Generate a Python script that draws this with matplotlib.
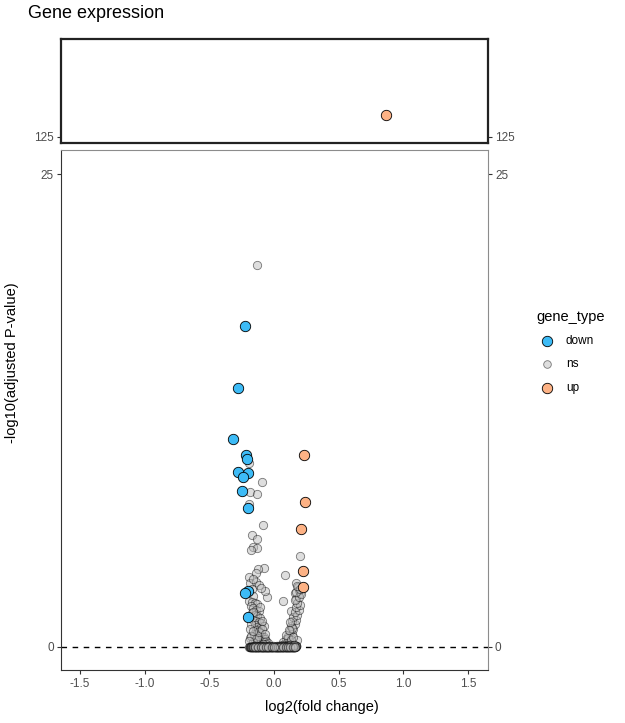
import matplotlib
matplotlib.use("Agg")
import matplotlib.pyplot as plt
from matplotlib.lines import Line2D

plt.rcParams['font.family'] = ['Liberation Sans', 'DejaVu Sans']

# significant genes
down_x = [-0.224, -0.278, -0.315, -0.219, -0.211, -0.281, -0.203, -0.237, -0.250,
          -0.203, -0.199, -0.224, -0.203]
down_y = [16.97, 13.69, 10.98, 10.15, 9.95, 9.27, 9.18, 9.00, 8.26,
          7.36, 2.96, 2.84, 1.60]
up_x = [0.866, 0.232, 0.237, 0.209, 0.227, 0.227]
up_y = [126.16, 10.16, 7.68, 6.24, 4.02, 3.19]

# non significant genes, scattered part
ns_x = [-0.131, -0.191, -0.090, -0.186, -0.129, -0.191, -0.083, -0.172, -0.129,
        -0.165, -0.129, -0.180, 0.201, -0.077, -0.121, -0.139, -0.191, 0.085,
        -0.186, -0.139, -0.114, 0.168, 0.183, -0.056, 0.162, 0.201, 0.067,
        -0.17, -0.07, -0.165, -0.16, -0.10, 0.17, 0.13, 0.19,
        -0.19, -0.17, -0.15, -0.13, -0.18, -0.16, -0.14, -0.12, -0.17, -0.15,
        -0.13, -0.11, -0.16, -0.14, -0.12, -0.10, -0.15, -0.13, -0.11, -0.14,
        -0.12, -0.10, -0.13, -0.11, -0.09, -0.12, -0.10, -0.08, -0.11, -0.09,
        -0.186, -0.175, -0.155, -0.105, -0.165,
        -0.195, -0.185, -0.08, -0.07, -0.06, -0.075, -0.095, -0.145, -0.125, -0.165,
        -0.135, -0.115, -0.09, -0.07, -0.05, -0.06, -0.085, -0.175, -0.195, -0.16,
        0.10, 0.12, 0.09, 0.13, 0.11, 0.14, 0.12, 0.15, 0.13, 0.16,
        0.14, 0.17, 0.15, 0.18, 0.16, 0.19, 0.17, 0.20, 0.18, 0.16,
        0.19, 0.21, 0.17, 0.20, 0.18, 0.155, 0.14, 0.175,
        0.08, 0.07, 0.11, 0.09, 0.135, 0.115, 0.145, 0.125, 0.1, 0.06]
ns_y = [20.19, 9.74, 8.70, 8.21, 8.09, 7.56, 6.43, 5.92, 5.71,
        5.30, 5.25, 5.13, 4.81, 4.16, 4.12, 3.93, 3.72, 3.81,
        3.37, 3.45, 3.28, 3.37, 3.19, 2.66, 2.84, 2.84, 2.43,
        3.05, 2.95, 2.70, 3.60, 3.10, 2.55, 1.90, 3.00,
        2.45, 2.40, 2.30, 2.25, 2.15, 2.05, 1.95, 1.90, 1.80, 1.70,
        1.62, 1.55, 1.45, 1.38, 1.30, 1.25, 1.15, 1.05, 1.00, 0.90,
        0.82, 0.75, 0.65, 0.58, 0.52, 0.45, 0.38, 0.32, 0.25, 0.20,
        0.48, 1.20, 0.70, 2.10, 1.85,
        1.60, 0.95, 0.55, 0.40, 0.30, 1.10, 1.40, 0.35, 0.60, 0.25,
        0.50, 0.80, 0.95, 0.70, 0.20, 0.15, 0.15, 0.60, 0.30, 0.85,
        0.20, 0.30, 0.40, 0.50, 0.60, 0.70, 0.85, 0.95, 1.10, 1.20,
        1.35, 1.45, 1.60, 1.70, 1.85, 1.95, 2.10, 2.20, 2.35, 2.50,
        2.65, 2.80, 2.90, 3.05, 3.20, 0.10, 1.00, 0.35,
        0.15, 0.25, 0.45, 0.65, 0.35, 0.90, 0.55, 1.30, 0.12, 0.10]

# non significant genes, band near zero (padj close to 1)
band_x = [-0.190, -0.184, -0.178, -0.172, -0.166, -0.160, -0.154, -0.148, -0.142,
          -0.136, -0.130, -0.124, -0.118, -0.112, -0.106, -0.100, -0.094, -0.088,
          -0.082, -0.076, -0.070, -0.064, -0.058, -0.052, -0.046, -0.040, -0.034,
          -0.028, -0.022, -0.016, -0.010, -0.004, 0.004, 0.010, 0.016, 0.022,
          0.028, 0.034, 0.040, 0.046, 0.052, 0.058, 0.064, 0.070, 0.076, 0.082,
          0.088, 0.094, 0.100, 0.106, 0.112, 0.118, 0.124, 0.130, 0.136, 0.142,
          0.148, 0.154, 0.160, 0.166, 0.170,
          -0.187, -0.181, -0.175, -0.169, -0.163, -0.157, -0.151, -0.145, -0.139,
          -0.133, -0.127, -0.121, -0.115, -0.109, -0.103, -0.097, -0.091, -0.085,
          -0.079, -0.073, -0.067, -0.061, -0.055, -0.049, -0.043, -0.037, -0.031,
          -0.025, -0.019, -0.013, -0.007, 0.007, 0.013, 0.019, 0.025,
          0.031, 0.037, 0.043, 0.049, 0.055, 0.061, 0.067, 0.073, 0.079, 0.085,
          0.091, 0.097, 0.103, 0.109, 0.115, 0.121, 0.127, 0.133, 0.139, 0.145,
          0.151, 0.157, 0.163, 0.168,
          -0.150, -0.130, -0.110, -0.090, -0.070, -0.050, -0.030, -0.010, 0.020,
          0.040, 0.060, 0.080, 0.100, 0.120, 0.140, 0.155,
          -0.165, -0.145, -0.127, -0.103, -0.085, -0.061, -0.043, -0.019, 0.013,
          0.031, 0.049, 0.067, 0.091, 0.109, 0.127, 0.145, 0.163,
          0.000]
band_y = [0.00, 0.00, 0.02, 0.00, 0.01, 0.00, 0.03, 0.00, 0.01,
          0.00, 0.02, 0.00, 0.01, 0.00, 0.03, 0.00, 0.01, 0.00,
          0.02, 0.00, 0.01, 0.00, 0.00, 0.02, 0.00, 0.01, 0.00,
          0.00, 0.01, 0.00, 0.02, 0.00, 0.00, 0.01, 0.00, 0.02,
          0.00, 0.01, 0.00, 0.00, 0.02, 0.00, 0.01, 0.00, 0.03, 0.00,
          0.01, 0.00, 0.02, 0.00, 0.01, 0.00, 0.03, 0.00, 0.01, 0.00,
          0.02, 0.00, 0.01, 0.03, 0.05,
          0.01, 0.00, 0.01, 0.00, 0.02, 0.00, 0.01, 0.00, 0.02,
          0.00, 0.01, 0.00, 0.02, 0.00, 0.01, 0.00, 0.02, 0.00,
          0.01, 0.00, 0.02, 0.00, 0.01, 0.00, 0.02, 0.00, 0.01,
          0.00, 0.02, 0.00, 0.01, 0.00, 0.02, 0.00, 0.01,
          0.00, 0.02, 0.00, 0.01, 0.00, 0.02, 0.00, 0.01, 0.00, 0.02,
          0.00, 0.01, 0.00, 0.02, 0.00, 0.01, 0.00, 0.02, 0.00, 0.01,
          0.00, 0.02, 0.00, 0.04,
          0.06, 0.05, 0.07, 0.04, 0.06, 0.05, 0.04, 0.06, 0.05,
          0.07, 0.04, 0.06, 0.05, 0.08, 0.06, 0.09,
          0.00, 0.01, 0.00, 0.02, 0.00, 0.01, 0.00, 0.00, 0.01,
          0.00, 0.02, 0.00, 0.01, 0.00, 0.02, 0.00, 0.01,
          0.00]

col_down = "#3dbbf6"
col_up = "#fdb285"
col_ns = "#bebebe"
tick_col = "#4d4d4d"

fig = plt.figure(figsize=(6.25, 7.23), dpi=100)
L, W = 61 / 625, 427 / 625
ax_top = fig.add_axes([L, 1 - 143 / 723, W, 104 / 723])
ax_bot = fig.add_axes([L, 1 - 670 / 723, W, 520 / 723])

xlim = (-1.648, 1.655)

for ax in (ax_top, ax_bot):
    ax.scatter(ns_x, ns_y, s=36, facecolor=col_ns, edgecolor="black",
               linewidth=0.6, alpha=0.5, zorder=3)
    ax.scatter(band_x, band_y, s=36, facecolor=col_ns, edgecolor="black",
               linewidth=0.8, alpha=0.5, zorder=3)
    ax.scatter(down_x, down_y, s=56, facecolor=col_down, edgecolor="black",
               linewidth=0.6, zorder=4)
    ax.scatter(up_x, up_y, s=56, facecolor=col_up, edgecolor="black",
               linewidth=0.6, zorder=4)
    ax.set_xlim(*xlim)
    ax.tick_params(axis="y", left=True, right=True, labelleft=True, labelright=True,
                   labelsize=8.5, labelcolor=tick_col, color="#333333", length=3, width=0.8,
                   pad=2)

ax_bot.axhline(0, color="black", lw=1.0, linestyle=(0, (4, 4)), zorder=2)

ax_top.set_ylim(124.68, 130.18)
ax_top.set_yticks([125])
ax_top.set_xticks([])
for s in ax_top.spines.values():
    s.set_color("#222222")
    s.set_linewidth(1.6)

ax_bot.set_ylim(-1.216, 26.27)
ax_bot.set_yticks([0, 25])
ax_bot.set_xticks([-1.5, -1.0, -0.5, 0.0, 0.5, 1.0, 1.5])
ax_bot.set_xticklabels(["-1.5", "-1.0", "-0.5", "0.0", "0.5", "1.0", "1.5"])
ax_bot.tick_params(axis="x", labelsize=8.5, labelcolor=tick_col, color="#333333",
                   length=3, width=0.8, pad=3)
for name, s in ax_bot.spines.items():
    s.set_linewidth(0.8)
    s.set_color("#333333" if name in ("left", "bottom") else "#8c8c8c")

fig.text(28 / 625, 1 - 14 / 723, "Gene expression", fontsize=13, ha="left", va="center")
fig.text(12 / 625, 1 - 363 / 723, "-log10(adjusted P-value)", fontsize=10.5,
         rotation=90, ha="center", va="center")
fig.text(322 / 625, 1 - 707 / 723, "log2(fold change)", fontsize=10.5,
         ha="center", va="center")

# legend
fig.text(536 / 625, 1 - 317 / 723, "gene_type", fontsize=10.5, ha="left", va="center")
leg_labels = ["down", "ns", "up"]
leg_cols = [col_down, col_ns, col_up]
leg_sizes = [7.5, 5.5, 7.5]
leg_alpha = [1, 0.5, 1]
leg_ys = [341, 364, 388]
for lab, c, ms, a, py in zip(leg_labels, leg_cols, leg_sizes, leg_alpha, leg_ys):
    fig.lines.append(Line2D([547 / 625], [1 - py / 723], marker="o", markersize=ms,
                            markerfacecolor=c, markeredgecolor="black",
                            markeredgewidth=0.6, alpha=a, linestyle="none",
                            transform=fig.transFigure))
    fig.text(566 / 625, 1 - py / 723, lab, fontsize=8.5, ha="left", va="center")

fig.savefig("out.png", dpi=100)
